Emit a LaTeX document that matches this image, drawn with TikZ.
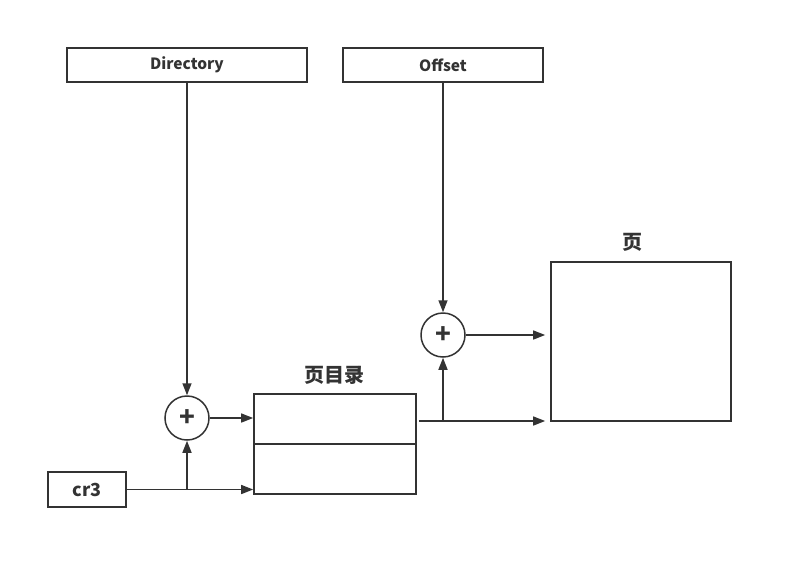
\documentclass[tikz,border=0pt]{standalone}
\usepackage{fontspec}
\setmainfont{Noto Sans CJK SC}
\usetikzlibrary{arrows.meta}
\definecolor{ink}{HTML}{333333}

\begin{document}
\begin{tikzpicture}[x=1pt,y=-1pt]
    \tikzset{box/.style = {draw=ink, line width=1.7pt, text=ink, font=\bfseries\fontsize{15.5}{18}\selectfont, inner sep=0pt}}
    \tikzset{adder/.style = {shape=circle, draw=ink, line width=1.5pt, text=ink, minimum size=44, inner sep=0pt, font=\bfseries\fontsize{26}{26}\selectfont}}
    \tikzset{title/.style = {text=ink, font=\bfseries\fontsize{20}{22}\selectfont}}
    \tikzset{link/.style = {draw=ink, line width=1.6pt, -{Triangle[length=12pt,width=9pt]}}}

    \useasboundingbox (0,0) rectangle (793,568);

    % registers
    \node[box, minimum width=240, minimum height=34] (dir) at (187,65) {Directory};
    \node[box, minimum width=200, minimum height=34] (off) at (443,65) {Offset};
    \node[box, minimum width=78, minimum height=35, font=\bfseries\fontsize{18}{20}\selectfont] (cr3) at (87,489.5) {cr3};

    % adders
    \node[adder] (plus1) at (187,418) {+};
    \node[adder] (plus2) at (443,335) {+};

    % page directory and page
    \node[box, minimum width=162, minimum height=50] (pdtop) at (335,419) {};
    \node[box, minimum width=162, minimum height=50] (pdbot) at (335,469) {};
    \node[title] (pdlabel) at (334,375) {页目录};
    \node[box, minimum width=180, minimum height=159] (page) at (641,341.5) {};
    \node[title] (pagelabel) at (632,242) {页};

    % joints
    \coordinate (j1) at (cr3 -| plus1);
    \coordinate (j2) at ([yshift=-2pt]pdtop.east -| plus2);

    % connections
    \draw[link] (dir) -- (plus1);
    \draw[link] (off) -- (plus2);
    \draw[link] (cr3.east) -- (cr3.east -| pdbot.west);
    \draw[link] (j1) -- (plus1);
    \draw[link] (plus1) -- (plus1 -| pdtop.west);
    \draw[link, shorten >=5pt] ([shift={(2pt,-2pt)}]pdtop.east) -- (j2 -| page.west);
    \draw[link] (j2) -- (plus2);
    \draw[link, shorten >=5pt] (plus2) -- (plus2 -| page.west);
\end{tikzpicture}
\end{document}
